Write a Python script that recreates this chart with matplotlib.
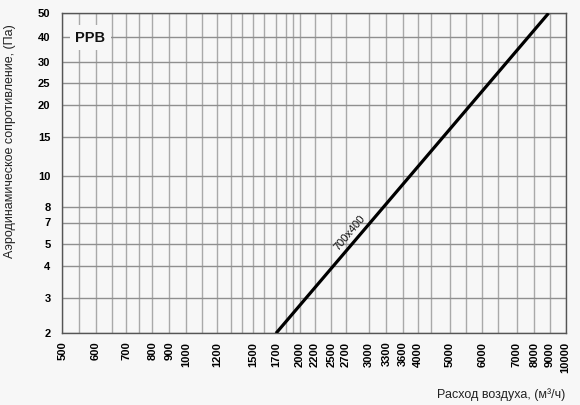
import numpy as np
import matplotlib.pyplot as plt
from matplotlib.ticker import FixedLocator, FixedFormatter, NullFormatter

# --- data ---
x_ticks = [500, 600, 700, 800, 900, 1000, 1200, 1500, 1700, 2000, 2200, 2500,
           2700, 3000, 3300, 3600, 4000, 5000, 6000, 7000, 8000, 9000, 10000]
x_minor = [550, 650, 750, 1100, 1300, 1400, 1600, 1800, 1900, 4500, 5500, 6500]
y_ticks = [2, 3, 4, 5, 7, 8, 10, 15, 20, 25, 30, 40, 50]

flow = [1700, 8900]       # м3/ч
pressure = [2, 50]        # Па
curve_name = "700x400"

# --- the chart's own (irregular) log grid: value -> pixel position ---
x_grid_val = [500, 550, 600, 650, 700, 750, 800, 900, 1000, 1100, 1200, 1300,
              1400, 1500, 1600, 1700, 1800, 1900, 2000, 2200, 2500, 2700, 3000,
              3300, 3600, 4000, 4500, 5000, 5500, 6000, 6500, 7000, 8000, 9000,
              10000]
x_grid_px = [62.3, 79, 96, 111.7, 126.3, 139.2, 152.3, 169.3, 186, 201.7, 217.5,
             230.7, 241.7, 253.3, 264.3, 276, 286.5, 292.7, 300, 314.7, 331.2,
             346, 369, 386.5, 403, 417.7, 431.3, 450, 466, 482.3, 498.3, 516.7,
             534.3, 550, 565.7]
y_grid_px = [333.3, 297.5, 266, 243.8, 222.5, 207, 175.7, 137.3, 104.7, 83.3,
             62.2, 36.7, 13.3]

lx = np.log10(x_grid_val)
px = np.array(x_grid_px)
ly = np.log10(y_ticks)
py = 333.3 - np.array(y_grid_px)


def fx(v):
    return np.interp(np.log10(np.clip(v, 1e-9, None)), lx, px)


def fx_inv(p):
    return 10 ** np.interp(p, px, lx)


def fy(v):
    return np.interp(np.log10(np.clip(v, 1e-9, None)), ly, py)


def fy_inv(p):
    return 10 ** np.interp(p, py, ly)


bg = '#f7f7f7'
plt.rcParams['font.family'] = ['Liberation Sans', 'DejaVu Sans']

fig = plt.figure(figsize=(5.8, 4.05), dpi=100, facecolor=bg)
ax = fig.add_axes([62.3 / 580, 1 - 333.3 / 405, 503.4 / 580, 320 / 405])
ax.set_facecolor(bg)

ax.set_xscale('function', functions=(fx, fx_inv))
ax.set_yscale('function', functions=(fy, fy_inv))
ax.set_xlim(500, 10000)
ax.set_ylim(2, 50)

ax.xaxis.set_major_locator(FixedLocator(x_ticks))
ax.xaxis.set_major_formatter(FixedFormatter([str(v) for v in x_ticks]))
ax.xaxis.set_minor_locator(FixedLocator(x_minor))
ax.xaxis.set_minor_formatter(NullFormatter())
ax.yaxis.set_major_locator(FixedLocator(y_ticks))
ax.yaxis.set_major_formatter(FixedFormatter([str(v) for v in y_ticks]))
ax.yaxis.set_minor_locator(FixedLocator([]))

ax.tick_params(which='both', length=0)
ax.tick_params(axis='x', pad=6, labelrotation=90, labelsize=8)
ax.tick_params(axis='y', pad=8.5, labelsize=8)
for lab in ax.get_xticklabels() + ax.get_yticklabels():
    lab.set_fontweight('bold')
for lab in ax.get_xticklabels():
    lab.set_verticalalignment('top')

ax.grid(True, axis='x', which='both', color='#a9a9a9', lw=1.0)
ax.grid(True, axis='y', which='major', color='#8f8f8f', lw=1.0)
ax.set_axisbelow(True)
for s in ax.spines.values():
    s.set_color('#555555')
    s.set_linewidth(1.0)

ax.plot(flow, pressure, color='black', lw=2.3, solid_capstyle='butt', zorder=3)
ax.text(2750, 5.9, curve_name, rotation=50, ha='center', va='center',
        fontsize=8, color='#111111', zorder=4)

ax.text(0.056, 0.924, 'РРВ', transform=ax.transAxes, ha='center', va='center',
        fontsize=10.5, fontweight='bold', color='#111111', zorder=5,
        bbox=dict(boxstyle='square,pad=0.4', facecolor=bg, edgecolor='none'))

ax.set_ylabel('Аэродинамическое сопротивление, (Па)', fontsize=9, color='#222222')
ax.yaxis.set_label_coords(-0.091, 0.602)
ax.set_xlabel('Расход воздуха, (м³/ч)', fontsize=9, color='#222222')
ax.xaxis.set_label_coords(1.0, -0.172)
ax.xaxis.label.set_horizontalalignment('right')

fig.savefig('out.png', dpi=100, facecolor=bg)
